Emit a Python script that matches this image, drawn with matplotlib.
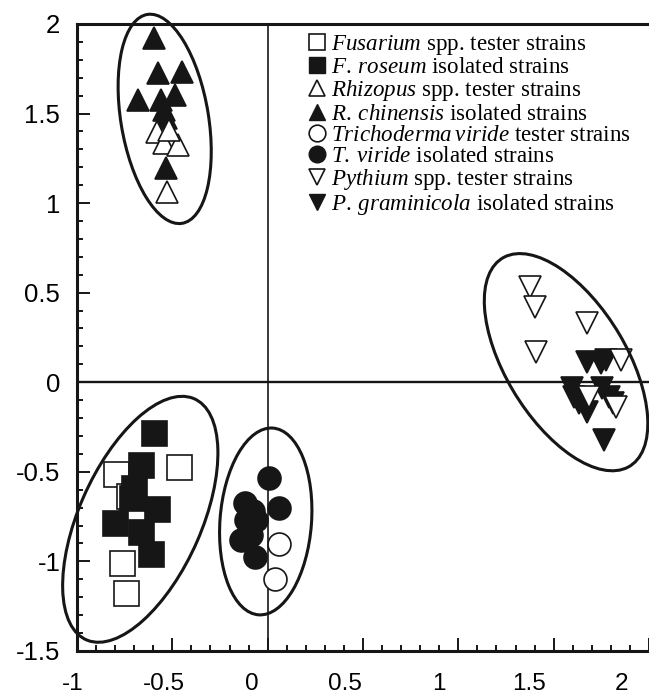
import matplotlib
matplotlib.use("Agg")
import matplotlib.pyplot as plt
import matplotlib.transforms as mtransforms
from matplotlib.lines import Line2D
from matplotlib.patches import Ellipse

plt.rcParams["mathtext.fontset"] = "custom"
plt.rcParams["mathtext.rm"] = "Liberation Serif"
plt.rcParams["mathtext.it"] = "Liberation Serif:italic"

# Fusarium (squares)
fus_test_x = [-0.793, -0.466, -0.725, -0.762, -0.741]
fus_test_y = [-0.514, -0.475, -0.637, -1.011, -1.179]
fus_iso_x = [-0.596, -0.663, -0.699, -0.710, -0.580, -0.803, -0.663, -0.611]
fus_iso_y = [-0.285, -0.464, -0.592, -0.648, -0.709, -0.788, -0.838, -0.961]

# Rhizopus (triangles up)
rhi_test_x = [-0.580, -0.544, -0.471, -0.528, -0.518]
rhi_test_y = [1.397, 1.335, 1.324, 1.061, 1.410]
rhi_iso_x = [-0.596, -0.575, -0.451, -0.679, -0.560, -0.487, -0.544, -0.534, -0.534]
rhi_iso_y = [1.922, 1.726, 1.732, 1.575, 1.575, 1.603, 1.520, 1.475, 1.196]

# Trichoderma (circles)
tri_test_x = [0.057, 0.036]
tri_test_y = [-0.905, -1.101]
tri_iso_x = [0.005, 0.062, -0.119, -0.078, -0.114, -0.062, -0.140, -0.088, -0.067]
tri_iso_y = [-0.536, -0.704, -0.676, -0.721, -0.771, -0.771, -0.883, -0.855, -0.978]

# Pythium (triangles down)
pyt_test_x = [1.378, 1.404, 1.674, 1.409, 1.855, 1.829, 1.684]
pyt_test_y = [0.531, 0.419, 0.330, 0.168, 0.123, -0.140, -0.084]
pyt_iso_x = [1.674, 1.746, 1.777, 1.596, 1.606, 1.632, 1.674, 1.751, 1.788, 1.813, 1.762]
pyt_iso_y = [0.112, 0.106, 0.123, -0.034, -0.084, -0.117, -0.168, -0.034, -0.084, -0.117, -0.324]

# group ellipses: centre x, centre y, major, minor, angle
ell_cx = [-0.54, -0.668, -0.01, 1.565]
ell_cy = [1.47, -0.765, -0.777, 0.112]
ell_major = [1.18, 1.46, 1.045, 1.34]
ell_minor = [0.46, 0.645, 0.48, 0.64]
ell_angle = [98.7, 67.7, 86.0, -61.0]

x_ticks = [-1, -0.5, 0, 0.5, 1, 1.5, 2]
x_tick_text = ["-1", "-0.5", "0", "0.5", "1", "1.5", "2"]
# label positions in the original drift left of their ticks
x_label_pos = [-1.021, -0.544, -0.083, 0.404, 0.896, 1.373, 1.855]
y_ticks = [-1.5, -1, -0.5, 0, 0.5, 1, 1.5, 2]
y_tick_text = ["-1.5", "-1", "-0.5", "0", "0.5", "1", "1.5", "2"]

legend_labels = [
    r"$\it{Fusarium}$ spp. tester strains",
    r"$\it{F.\:roseum}$ isolated strains",
    r"$\it{Rhizopus}$ spp. tester strains",
    r"$\it{R.\:chinensis}$ isolated strains",
    r"$\it{Trichoderma\:viride}$ tester strains",
    r"$\it{T.\:viride}$ isolated strains",
    r"$\it{Pythium}$ spp. tester strains",
    r"$\it{P.\:graminicola}$ isolated strains",
]

DARK = "#161616"
tick_font = dict(family=["Liberation Sans Narrow", "Liberation Sans"], size=18.5)
xtick_font = dict(family=["Liberation Sans Narrow", "Liberation Sans"], size=17.5)

fig = plt.figure(figsize=(6.49, 6.96), dpi=100)
ax = fig.add_axes([0.1186, 0.0647, 0.8814, 0.9009])
ax.set_xlim(-1, 1.964)
ax.set_ylim(-1.5, 2.0)

ax.axhline(0, color=DARK, lw=1.7, zorder=1)
ax.axvline(0, color=DARK, lw=1.2, zorder=1)

def pts(x, y, marker, filled, size, z):
    ax.plot(x, y, ls="", marker=marker, ms=size,
            mfc=DARK if filled else "white", mec=DARK, mew=1.2, zorder=z)

pts(fus_test_x, fus_test_y, "s", False, 18, 3)
pts(fus_iso_x, fus_iso_y, "s", True, 18, 4)
pts(rhi_iso_x, rhi_iso_y, "^", True, 16, 3)
pts(rhi_test_x, rhi_test_y, "^", False, 16, 4)
pts(tri_iso_x, tri_iso_y, "o", True, 16.5, 3)
pts(tri_test_x, tri_test_y, "o", False, 16.5, 4)
pts(pyt_iso_x, pyt_iso_y, "v", True, 15.5, 3)
pts(pyt_test_x, pyt_test_y, "v", False, 15.5, 4)

for cx, cy, w, h, a in zip(ell_cx, ell_cy, ell_major, ell_minor, ell_angle):
    ax.add_patch(Ellipse((cx, cy), w, h, angle=a, fill=False,
                         ec=DARK, lw=2.2, zorder=5, clip_on=False))

# axes frame
for side in ["left", "bottom", "top"]:
    ax.spines[side].set_linewidth(2.2)
    ax.spines[side].set_color(DARK)
ax.spines["right"].set_visible(False)

ax.set_xticks(x_ticks)
ax.set_xticklabels([])
ax.set_xticks([v / 10 for v in range(-10, 20)], minor=True)
ax.set_yticks(y_ticks)
ax.set_yticklabels(y_tick_text, **tick_font)
ax.set_yticks([v / 10 for v in range(-15, 21)], minor=True)
ax.tick_params(which="both", direction="in", width=1.4, color=DARK,
               top=False, right=False)
ax.tick_params(which="major", length=9.5)
ax.tick_params(which="minor", length=4.3)
ax.tick_params(axis="y", pad=12)

trans = mtransforms.blended_transform_factory(ax.transData, ax.transAxes)
for pos, txt in zip(x_label_pos, x_tick_text):
    ax.text(pos, -0.0695, txt, transform=trans, ha="center", va="bottom",
            **xtick_font)

handles = [
    Line2D([], [], ls="", marker="s", ms=12, mfc="white", mec=DARK, mew=1.2),
    Line2D([], [], ls="", marker="s", ms=12, mfc=DARK, mec=DARK),
    Line2D([], [], ls="", marker="^", ms=12, mfc="white", mec=DARK, mew=1.2),
    Line2D([], [], ls="", marker="^", ms=12, mfc=DARK, mec=DARK),
    Line2D([], [], ls="", marker="o", ms=12, mfc="white", mec=DARK, mew=1.2),
    Line2D([], [], ls="", marker="o", ms=12, mfc=DARK, mec=DARK),
    Line2D([], [], ls="", marker="v", ms=12, mfc="white", mec=DARK, mew=1.2),
    Line2D([], [], ls="", marker="v", ms=12, mfc=DARK, mec=DARK),
]
ax.legend(handles, legend_labels, loc="upper left", bbox_to_anchor=(0.407, 0.985),
          frameon=False, handlelength=0.6, handletextpad=0.3, borderpad=0,
          borderaxespad=0, labelspacing=0.0,
          prop=dict(family="Liberation Serif", size=16.6))

fig.savefig("out.png", dpi=100)
